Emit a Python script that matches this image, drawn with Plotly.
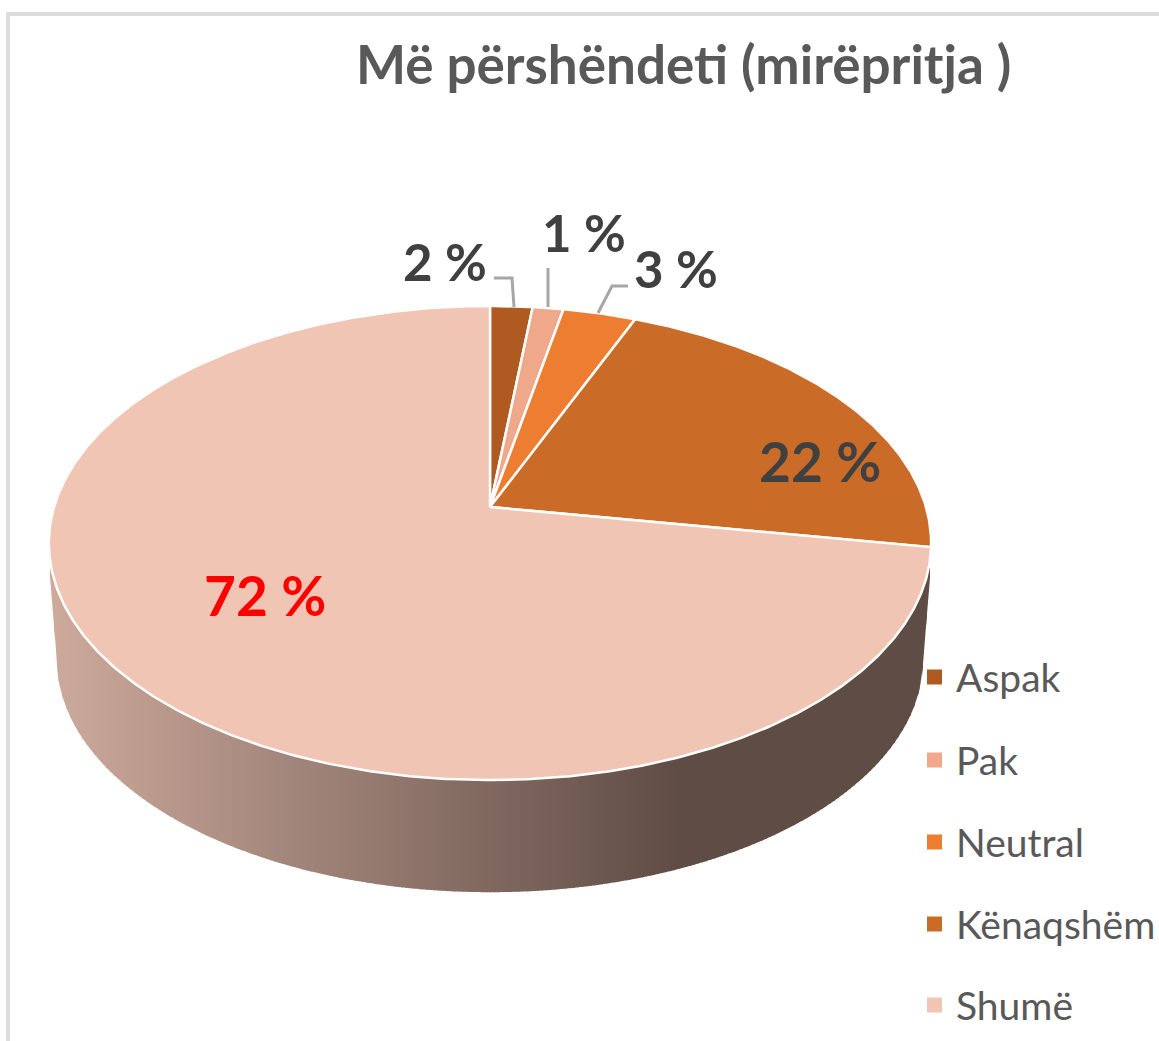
import numpy as np
import plotly.graph_objects as go

# ---- data ----
categories = ["Aspak", "Pak", "Neutral", "Kënaqshëm", "Shumë"]
values = [1.8, 1.3, 3.1, 21.5, 72.3]
value_labels = ["2 %", "1 %", "3 %", "22 %", "72 %"]
colors = ["#ae5a21", "#efa88a", "#ed7d31", "#cb6b28", "#f1c5b3"]
label_colors = ["#404040", "#404040", "#404040", "#404040", "#ff0000"]
label_sizes = [51, 51, 51, 55, 55]
label_x = [445, 584, 676, 820, 265]
label_y = [261, 232, 268, 461, 595]
legend_y = [677, 760, 842, 924, 1005]
title_text = "Më përshëndeti (mirëpritja )"

W, H = 1159, 1041
CX, AY = 490.0, 507.0   # disc apex in the page
A, B, K = 436.0, 231.6, 0.152  # perspective of the disc


def project(theta, radius=1.0, scale=1.0, dy=0.0):
    """Turn a clockwise angle from 12 o'clock into page position, with perspective."""
    px, py = radius * np.sin(theta), radius * np.cos(theta)
    w = 1 + K * py
    return CX + scale * A * px / w, AY + dy - scale * B * py / w


fig = go.Figure()

# ---- side wall, gradient built from vertical strips ----
t0 = np.arccos(-K)
t = np.linspace(t0, 2 * np.pi - t0, 600)
bx, by = project(t, scale=0.982, dy=117)
tx, ty = project(t)
o_b, o_t = np.argsort(bx), np.argsort(tx)
low_x = np.concatenate([[50.0], bx[o_b], [930.0]])
low_y = np.concatenate([[577.0], by[o_b], [578.0]])
light, dark = np.array([205, 170, 156]), np.array([95, 76, 69])
step = 4
for x0 in np.arange(50, 930, step):
    x1 = min(x0 + step + 1, 930)
    f = min((x0 - 50) / 630.0, 1.0)
    c = (light + (dark - light) * f).astype(int)
    xs = np.linspace(x0, x1, 4)
    lo = np.interp(xs, low_x, low_y)
    up = np.interp(xs, tx[o_t], ty[o_t]) - 4
    up = np.minimum(up, lo)
    fig.add_trace(go.Scatter(
        x=np.concatenate([xs, xs[::-1]]), y=np.concatenate([up, lo[::-1]]),
        mode="lines", fill="toself", fillcolor=f"rgb({c[0]},{c[1]},{c[2]})",
        line=dict(width=0), hoverinfo="skip", showlegend=False))

# ---- top disc wedges, from the values ----
total = sum(values)
start = 0.0
for name, v, col in zip(categories, values, colors):
    end = start + v / total * 2 * np.pi
    th = np.linspace(start, end, max(int(v * 8), 12))
    ax, ay = project(th)
    fig.add_trace(go.Scatter(
        x=np.concatenate([[CX], ax, [CX]]), y=np.concatenate([[AY], ay, [AY]]),
        mode="lines", fill="toself", fillcolor=col,
        line=dict(color="white", width=2.5), name=name, hoverinfo="name", showlegend=False))
    start = end

# ---- leader lines ----
leaders = [([494, 512, 514], [278, 278, 307]),
           ([548, 548], [268, 307]),
           ([628, 612, 598], [286, 286, 313])]
for lx, ly in leaders:
    fig.add_trace(go.Scatter(x=lx, y=ly, mode="lines", line=dict(color="#a6a6a6", width=3),
                             hoverinfo="skip", showlegend=False))

# ---- legend markers ----
fig.add_trace(go.Scatter(
    x=[934.5] * 5, y=legend_y, mode="markers",
    marker=dict(symbol="square", size=15, color=colors, line=dict(width=0)),
    hoverinfo="skip", showlegend=False))

ann = []
for txt, col, sz, x, y in zip(value_labels, label_colors, label_sizes, label_x, label_y):
    ann.append(dict(x=x, y=y, text=f"<b>{txt}</b>", showarrow=False,
                    font=dict(family="Lato", size=sz, color=col)))
for name, y in zip(categories, legend_y):
    ann.append(dict(x=954, y=y, text=name, showarrow=False, xanchor="left",
                    font=dict(family="Lato", size=39, color="#595959")))
ann.append(dict(x=683, y=63, text=f"<b>{title_text}</b>", showarrow=False,
                font=dict(family="Lato", size=53, color="#595959")))

# ---- frame ----
shapes = [
    dict(type="line", x0=8, x1=8, y0=14, y1=H, line=dict(color="#dcdcdc", width=4)),
    dict(type="line", x0=6, x1=W, y0=14, y1=14, line=dict(color="#dcdcdc", width=4)),
]

fig.update_layout(
    width=W, height=H, margin=dict(l=0, r=0, t=0, b=0),
    paper_bgcolor="white", plot_bgcolor="white", showlegend=False,
    xaxis=dict(range=[0, W], visible=False, fixedrange=True),
    yaxis=dict(range=[H, 0], visible=False, fixedrange=True),
    annotations=ann, shapes=shapes,
)
fig.write_html(
    "out.html", config={"displayModeBar": False},
    post_script="document.body.style.margin='0';document.documentElement.style.overflow='hidden';",
)
